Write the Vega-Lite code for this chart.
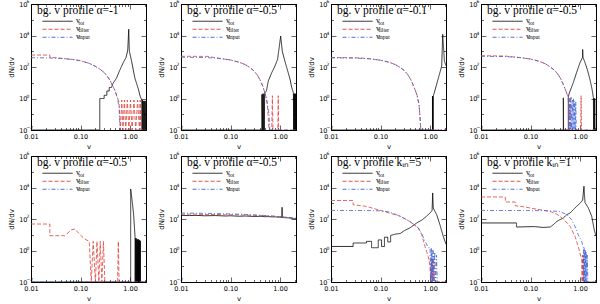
{
"$schema":"https://vega.github.io/schema/vega-lite/v6.json",
"padding":{"left":7,"top":-2,"right":2,"bottom":0},
"bounds":"flush",
"columns":4,
"spacing":{"row":26,"column":35},
"data":{"values":[
{"p":1,"s":"tot","v":0.01,"n":0.01},{"p":1,"s":"tot","v":0.245,"n":0.01},{"p":1,"s":"tot","v":0.245,"n":1},{"p":1,"s":"tot","v":0.3,"n":1},{"p":1,"s":"tot","v":0.3,"n":1.6},{"p":1,"s":"tot","v":0.34,"n":1.6},{"p":1,"s":"tot","v":0.34,"n":3},{"p":1,"s":"tot","v":0.38,"n":3},{"p":1,"s":"tot","v":0.38,"n":5},{"p":1,"s":"tot","v":0.42,"n":5},{"p":1,"s":"tot","v":0.46,"n":10},{"p":1,"s":"tot","v":0.53,"n":19},{"p":1,"s":"tot","v":0.63,"n":70},{"p":1,"s":"tot","v":0.73,"n":190},{"p":1,"s":"tot","v":0.83,"n":400},{"p":1,"s":"tot","v":0.9,"n":1200},{"p":1,"s":"tot","v":0.94,"n":25000},{"p":1,"s":"tot","v":0.97,"n":1000},{"p":1,"s":"tot","v":1.07,"n":250},{"p":1,"s":"tot","v":1.25,"n":20},{"p":1,"s":"tot","v":1.47,"n":4},{"p":1,"s":"tot","v":1.6,"n":1.4},{"p":1,"s":"tot","v":1.72,"n":0.8},{"p":1,"s":"tot","v":1.75,"n":0.01},{"p":1,"s":"tot","v":1.78,"n":0.8},{"p":1,"s":"tot","v":1.82,"n":0.01},{"p":1,"s":"tot","v":1.86,"n":0.7},{"p":1,"s":"tot","v":1.9,"n":0.01},{"p":1,"s":"tot","v":1.94,"n":0.7},{"p":1,"s":"tot","v":1.98,"n":0.01},{"p":1,"s":"tot","v":2.02,"n":0.7},{"p":1,"s":"tot","v":2.06,"n":0.01},{"p":1,"s":"tot","v":2.1,"n":0.7},
{"p":1,"s":"filter","v":0.01,"n":575},{"p":1,"s":"filter","v":0.024,"n":575},{"p":1,"s":"filter","v":0.024,"n":420},{"p":1,"s":"filter","v":0.04,"n":360},{"p":1,"s":"filter","v":0.07,"n":300},{"p":1,"s":"filter","v":0.1,"n":250},{"p":1,"s":"filter","v":0.15,"n":170},{"p":1,"s":"filter","v":0.2,"n":110},{"p":1,"s":"filter","v":0.25,"n":70},{"p":1,"s":"filter","v":0.3,"n":45},{"p":1,"s":"filter","v":0.35,"n":25},{"p":1,"s":"filter","v":0.4,"n":13},{"p":1,"s":"filter","v":0.45,"n":6},{"p":1,"s":"filter","v":0.5,"n":3},{"p":1,"s":"filter","v":0.55,"n":1.2},{"p":1,"s":"filter","v":0.6,"n":0.6},{"p":1,"s":"filter","v":0.64,"n":0.01},{"p":1,"s":"filter","v":0.68,"n":0.8},{"p":1,"s":"filter","v":0.72,"n":0.01},{"p":1,"s":"filter","v":0.77,"n":0.8},{"p":1,"s":"filter","v":0.82,"n":0.01},{"p":1,"s":"filter","v":0.88,"n":0.8},{"p":1,"s":"filter","v":0.95,"n":0.01},{"p":1,"s":"filter","v":1.02,"n":0.8},{"p":1,"s":"filter","v":1.1,"n":0.01},{"p":1,"s":"filter","v":1.2,"n":0.8},{"p":1,"s":"filter","v":1.3,"n":0.01},{"p":1,"s":"filter","v":1.42,"n":0.8},{"p":1,"s":"filter","v":1.55,"n":0.01},{"p":1,"s":"filter","v":1.6,"n":0.8},{"p":1,"s":"filter","v":1.65,"n":0.01},{"p":1,"s":"filter","v":2.1,"n":0.01},
{"p":1,"s":"input","v":0.01,"n":390},{"p":1,"s":"input","v":0.02,"n":380},{"p":1,"s":"input","v":0.04,"n":350},{"p":1,"s":"input","v":0.07,"n":300},{"p":1,"s":"input","v":0.1,"n":250},{"p":1,"s":"input","v":0.15,"n":170},{"p":1,"s":"input","v":0.2,"n":110},{"p":1,"s":"input","v":0.25,"n":70},{"p":1,"s":"input","v":0.3,"n":45},{"p":1,"s":"input","v":0.35,"n":25},{"p":1,"s":"input","v":0.4,"n":13},{"p":1,"s":"input","v":0.45,"n":6},{"p":1,"s":"input","v":0.5,"n":3},{"p":1,"s":"input","v":0.55,"n":1.2},{"p":1,"s":"input","v":0.6,"n":0.3},{"p":1,"s":"input","v":0.63,"n":0.01},{"p":1,"s":"input","v":2.1,"n":0.01},
{"p":2,"s":"tot","v":0.01,"n":0.01},{"p":2,"s":"tot","v":0.43,"n":0.01},{"p":2,"s":"tot","v":0.43,"n":1.8},{"p":2,"s":"tot","v":0.44,"n":0.01},{"p":2,"s":"tot","v":0.45,"n":2},{"p":2,"s":"tot","v":0.46,"n":0.01},{"p":2,"s":"tot","v":0.47,"n":2},{"p":2,"s":"tot","v":0.48,"n":0.01},{"p":2,"s":"tot","v":0.49,"n":2.2},{"p":2,"s":"tot","v":0.53,"n":3},{"p":2,"s":"tot","v":0.58,"n":13},{"p":2,"s":"tot","v":0.68,"n":44},{"p":2,"s":"tot","v":0.79,"n":115},{"p":2,"s":"tot","v":0.89,"n":300},{"p":2,"s":"tot","v":0.96,"n":1700},{"p":2,"s":"tot","v":1.03,"n":9300},{"p":2,"s":"tot","v":1.11,"n":1000},{"p":2,"s":"tot","v":1.25,"n":240},{"p":2,"s":"tot","v":1.46,"n":44},{"p":2,"s":"tot","v":1.59,"n":17},{"p":2,"s":"tot","v":1.72,"n":5},{"p":2,"s":"tot","v":1.86,"n":2.3},{"p":2,"s":"tot","v":1.88,"n":0.01},{"p":2,"s":"tot","v":1.9,"n":2},{"p":2,"s":"tot","v":1.93,"n":0.01},{"p":2,"s":"tot","v":1.96,"n":2},{"p":2,"s":"tot","v":1.99,"n":0.01},{"p":2,"s":"tot","v":2.02,"n":2},{"p":2,"s":"tot","v":2.05,"n":0.01},{"p":2,"s":"tot","v":2.08,"n":2},{"p":2,"s":"tot","v":2.1,"n":0.01},
{"p":2,"s":"filter","v":0.01,"n":480},{"p":2,"s":"filter","v":0.035,"n":470},{"p":2,"s":"filter","v":0.06,"n":350},{"p":2,"s":"filter","v":0.1,"n":280},{"p":2,"s":"filter","v":0.15,"n":200},{"p":2,"s":"filter","v":0.2,"n":140},{"p":2,"s":"filter","v":0.25,"n":90},{"p":2,"s":"filter","v":0.3,"n":55},{"p":2,"s":"filter","v":0.35,"n":30},{"p":2,"s":"filter","v":0.4,"n":14},{"p":2,"s":"filter","v":0.45,"n":6},{"p":2,"s":"filter","v":0.5,"n":2},{"p":2,"s":"filter","v":0.55,"n":0.6},{"p":2,"s":"filter","v":0.6,"n":0.01},{"p":2,"s":"filter","v":0.68,"n":0.01},{"p":2,"s":"filter","v":0.7,"n":1.5},{"p":2,"s":"filter","v":0.72,"n":0.01},{"p":2,"s":"filter","v":0.9,"n":0.01},{"p":2,"s":"filter","v":0.92,"n":1.5},{"p":2,"s":"filter","v":0.94,"n":0.01},{"p":2,"s":"filter","v":2.1,"n":0.01},
{"p":2,"s":"input","v":0.01,"n":420},{"p":2,"s":"input","v":0.03,"n":400},{"p":2,"s":"input","v":0.06,"n":350},{"p":2,"s":"input","v":0.1,"n":280},{"p":2,"s":"input","v":0.15,"n":200},{"p":2,"s":"input","v":0.2,"n":140},{"p":2,"s":"input","v":0.25,"n":90},{"p":2,"s":"input","v":0.3,"n":55},{"p":2,"s":"input","v":0.35,"n":30},{"p":2,"s":"input","v":0.4,"n":14},{"p":2,"s":"input","v":0.45,"n":6},{"p":2,"s":"input","v":0.5,"n":2},{"p":2,"s":"input","v":0.55,"n":0.5},{"p":2,"s":"input","v":0.6,"n":0.1},{"p":2,"s":"input","v":0.62,"n":0.01},{"p":2,"s":"input","v":2.1,"n":0.01},
{"p":3,"s":"tot","v":0.01,"n":0.01},{"p":3,"s":"tot","v":1.12,"n":0.01},{"p":3,"s":"tot","v":1.12,"n":1.4},{"p":3,"s":"tot","v":1.13,"n":0.01},{"p":3,"s":"tot","v":1.14,"n":1.4},{"p":3,"s":"tot","v":1.15,"n":0.01},{"p":3,"s":"tot","v":1.16,"n":1.4},{"p":3,"s":"tot","v":1.17,"n":1.5},{"p":3,"s":"tot","v":1.36,"n":8},{"p":3,"s":"tot","v":1.58,"n":44},{"p":3,"s":"tot","v":1.72,"n":115},{"p":3,"s":"tot","v":1.8,"n":12000},{"p":3,"s":"tot","v":1.95,"n":240},{"p":3,"s":"tot","v":2.1,"n":120},
{"p":3,"s":"filter","v":0.01,"n":400},{"p":3,"s":"filter","v":0.03,"n":390},{"p":3,"s":"filter","v":0.06,"n":340},{"p":3,"s":"filter","v":0.1,"n":270},{"p":3,"s":"filter","v":0.15,"n":200},{"p":3,"s":"filter","v":0.2,"n":140},{"p":3,"s":"filter","v":0.25,"n":95},{"p":3,"s":"filter","v":0.3,"n":60},{"p":3,"s":"filter","v":0.35,"n":35},{"p":3,"s":"filter","v":0.4,"n":18},{"p":3,"s":"filter","v":0.45,"n":8},{"p":3,"s":"filter","v":0.5,"n":3.5},{"p":3,"s":"filter","v":0.55,"n":1.5},{"p":3,"s":"filter","v":0.6,"n":0.4},{"p":3,"s":"filter","v":0.63,"n":0.05},{"p":3,"s":"filter","v":0.65,"n":0.01},{"p":3,"s":"filter","v":2.1,"n":0.01},
{"p":3,"s":"input","v":0.01,"n":380},{"p":3,"s":"input","v":0.03,"n":370},{"p":3,"s":"input","v":0.06,"n":330},{"p":3,"s":"input","v":0.1,"n":270},{"p":3,"s":"input","v":0.15,"n":200},{"p":3,"s":"input","v":0.2,"n":140},{"p":3,"s":"input","v":0.25,"n":95},{"p":3,"s":"input","v":0.3,"n":60},{"p":3,"s":"input","v":0.35,"n":35},{"p":3,"s":"input","v":0.4,"n":18},{"p":3,"s":"input","v":0.45,"n":8},{"p":3,"s":"input","v":0.5,"n":3.5},{"p":3,"s":"input","v":0.55,"n":1.5},{"p":3,"s":"input","v":0.6,"n":0.4},{"p":3,"s":"input","v":0.63,"n":0.05},{"p":3,"s":"input","v":0.65,"n":0.01},{"p":3,"s":"input","v":2.1,"n":0.01},
{"p":4,"s":"tot","v":0.01,"n":0.01},{"p":4,"s":"tot","v":0.46,"n":0.01},{"p":4,"s":"tot","v":0.46,"n":1.1},{"p":4,"s":"tot","v":0.465,"n":0.01},{"p":4,"s":"tot","v":0.58,"n":0.01},{"p":4,"s":"tot","v":0.58,"n":1.5},{"p":4,"s":"tot","v":0.59,"n":1.5},{"p":4,"s":"tot","v":0.6,"n":2},{"p":4,"s":"tot","v":0.63,"n":3},{"p":4,"s":"tot","v":0.73,"n":10},{"p":4,"s":"tot","v":0.85,"n":44},{"p":4,"s":"tot","v":1.0,"n":190},{"p":4,"s":"tot","v":1.08,"n":310},{"p":4,"s":"tot","v":1.12,"n":400},{"p":4,"s":"tot","v":1.13,"n":1300},{"p":4,"s":"tot","v":1.15,"n":400},{"p":4,"s":"tot","v":1.26,"n":190},{"p":4,"s":"tot","v":1.4,"n":70},{"p":4,"s":"tot","v":1.58,"n":17},{"p":4,"s":"tot","v":1.75,"n":3.8},{"p":4,"s":"tot","v":1.86,"n":1.1},{"p":4,"s":"tot","v":1.88,"n":0.01},{"p":4,"s":"tot","v":1.92,"n":1},{"p":4,"s":"tot","v":1.95,"n":0.01},{"p":4,"s":"tot","v":1.98,"n":1},{"p":4,"s":"tot","v":2.01,"n":0.01},{"p":4,"s":"tot","v":2.1,"n":0.01},
{"p":4,"s":"filter","v":0.01,"n":520},{"p":4,"s":"filter","v":0.03,"n":500},{"p":4,"s":"filter","v":0.06,"n":400},{"p":4,"s":"filter","v":0.1,"n":320},{"p":4,"s":"filter","v":0.15,"n":230},{"p":4,"s":"filter","v":0.2,"n":160},{"p":4,"s":"filter","v":0.25,"n":100},{"p":4,"s":"filter","v":0.3,"n":65},{"p":4,"s":"filter","v":0.35,"n":38},{"p":4,"s":"filter","v":0.4,"n":20},{"p":4,"s":"filter","v":0.45,"n":9},{"p":4,"s":"filter","v":0.5,"n":4},{"p":4,"s":"filter","v":0.55,"n":1.8},{"p":4,"s":"filter","v":0.58,"n":1.5},{"p":4,"s":"filter","v":0.6,"n":0.01},{"p":4,"s":"filter","v":0.63,"n":1.2},{"p":4,"s":"filter","v":0.66,"n":0.01},{"p":4,"s":"filter","v":1.03,"n":0.01},{"p":4,"s":"filter","v":1.05,"n":1.5},{"p":4,"s":"filter","v":1.07,"n":0.01},{"p":4,"s":"filter","v":2.1,"n":0.01},
{"p":4,"s":"input","v":0.01,"n":480},{"p":4,"s":"input","v":0.03,"n":460},{"p":4,"s":"input","v":0.06,"n":400},{"p":4,"s":"input","v":0.1,"n":320},{"p":4,"s":"input","v":0.15,"n":230},{"p":4,"s":"input","v":0.2,"n":160},{"p":4,"s":"input","v":0.25,"n":100},{"p":4,"s":"input","v":0.3,"n":65},{"p":4,"s":"input","v":0.35,"n":38},{"p":4,"s":"input","v":0.4,"n":20},{"p":4,"s":"input","v":0.45,"n":9},{"p":4,"s":"input","v":0.5,"n":4},{"p":4,"s":"input","v":0.55,"n":1.8},{"p":4,"s":"input","v":0.58,"n":1},{"p":4,"s":"input","v":0.6,"n":0.01},{"p":4,"s":"input","v":0.62,"n":1},{"p":4,"s":"input","v":0.64,"n":0.01},{"p":4,"s":"input","v":0.66,"n":1.2},{"p":4,"s":"input","v":0.68,"n":0.01},{"p":4,"s":"input","v":0.7,"n":0.8},{"p":4,"s":"input","v":0.72,"n":0.01},{"p":4,"s":"input","v":0.74,"n":1},{"p":4,"s":"input","v":0.76,"n":0.01},{"p":4,"s":"input","v":0.78,"n":0.7},{"p":4,"s":"input","v":0.8,"n":0.01},{"p":4,"s":"input","v":0.82,"n":0.6},{"p":4,"s":"input","v":0.84,"n":0.01},{"p":4,"s":"input","v":2.1,"n":0.01},
{"p":5,"s":"tot","v":0.01,"n":0.01},{"p":5,"s":"tot","v":1.03,"n":0.01},{"p":5,"s":"tot","v":1.03,"n":8000},{"p":5,"s":"tot","v":1.1,"n":1500},{"p":5,"s":"tot","v":1.18,"n":200},{"p":5,"s":"tot","v":1.26,"n":8},{"p":5,"s":"tot","v":1.27,"n":0.01},{"p":5,"s":"tot","v":1.29,"n":6},{"p":5,"s":"tot","v":1.31,"n":0.01},{"p":5,"s":"tot","v":1.33,"n":6},{"p":5,"s":"tot","v":1.35,"n":0.01},{"p":5,"s":"tot","v":1.37,"n":5},{"p":5,"s":"tot","v":1.39,"n":0.01},{"p":5,"s":"tot","v":1.41,"n":5},{"p":5,"s":"tot","v":1.43,"n":0.01},{"p":5,"s":"tot","v":1.45,"n":5},{"p":5,"s":"tot","v":1.47,"n":0.01},{"p":5,"s":"tot","v":1.49,"n":5},{"p":5,"s":"tot","v":1.51,"n":0.01},{"p":5,"s":"tot","v":1.53,"n":4.5},{"p":5,"s":"tot","v":1.55,"n":0.01},{"p":5,"s":"tot","v":1.57,"n":4.5},{"p":5,"s":"tot","v":1.59,"n":0.01},{"p":5,"s":"tot","v":1.61,"n":4},{"p":5,"s":"tot","v":1.63,"n":0.01},{"p":5,"s":"tot","v":2.1,"n":0.01},
{"p":5,"s":"filter","v":0.01,"n":48},{"p":5,"s":"filter","v":0.024,"n":48},{"p":5,"s":"filter","v":0.024,"n":8.7},{"p":5,"s":"filter","v":0.048,"n":8.7},{"p":5,"s":"filter","v":0.066,"n":21},{"p":5,"s":"filter","v":0.077,"n":23},{"p":5,"s":"filter","v":0.098,"n":10},{"p":5,"s":"filter","v":0.12,"n":5.5},{"p":5,"s":"filter","v":0.15,"n":3.8},{"p":5,"s":"filter","v":0.165,"n":0.01},{"p":5,"s":"filter","v":0.18,"n":3.8},{"p":5,"s":"filter","v":0.2,"n":0.01},{"p":5,"s":"filter","v":0.215,"n":3.8},{"p":5,"s":"filter","v":0.235,"n":0.01},{"p":5,"s":"filter","v":0.25,"n":3.8},{"p":5,"s":"filter","v":0.27,"n":0.01},{"p":5,"s":"filter","v":0.29,"n":3.8},{"p":5,"s":"filter","v":0.31,"n":0.01},{"p":5,"s":"filter","v":0.56,"n":0.01},{"p":5,"s":"filter","v":0.58,"n":3.8},{"p":5,"s":"filter","v":0.6,"n":0.01},{"p":5,"s":"filter","v":2.1,"n":0.01},
{"p":5,"s":"input","v":0.01,"n":0.01},{"p":5,"s":"input","v":2.1,"n":0.01},
{"p":6,"s":"tot","v":0.01,"n":170},{"p":6,"s":"tot","v":0.015,"n":165},{"p":6,"s":"tot","v":0.02,"n":170},{"p":6,"s":"tot","v":0.03,"n":160},{"p":6,"s":"tot","v":0.05,"n":165},{"p":6,"s":"tot","v":0.08,"n":155},{"p":6,"s":"tot","v":0.1,"n":160},{"p":6,"s":"tot","v":0.15,"n":150},{"p":6,"s":"tot","v":0.2,"n":155},{"p":6,"s":"tot","v":0.3,"n":145},{"p":6,"s":"tot","v":0.4,"n":148},{"p":6,"s":"tot","v":0.5,"n":140},{"p":6,"s":"tot","v":0.6,"n":142},{"p":6,"s":"tot","v":0.7,"n":135},{"p":6,"s":"tot","v":0.8,"n":138},{"p":6,"s":"tot","v":0.9,"n":130},{"p":6,"s":"tot","v":1.0,"n":132},{"p":6,"s":"tot","v":1.08,"n":125},{"p":6,"s":"tot","v":1.1,"n":550},{"p":6,"s":"tot","v":1.12,"n":125},{"p":6,"s":"tot","v":1.3,"n":120},{"p":6,"s":"tot","v":1.5,"n":118},{"p":6,"s":"tot","v":1.7,"n":110},{"p":6,"s":"tot","v":1.9,"n":105},{"p":6,"s":"tot","v":2.1,"n":100},
{"p":6,"s":"filter","v":0.01,"n":200},{"p":6,"s":"filter","v":0.02,"n":205},{"p":6,"s":"filter","v":0.03,"n":190},{"p":6,"s":"filter","v":0.05,"n":195},{"p":6,"s":"filter","v":0.08,"n":185},{"p":6,"s":"filter","v":0.1,"n":190},{"p":6,"s":"filter","v":0.2,"n":175},{"p":6,"s":"filter","v":0.3,"n":170},{"p":6,"s":"filter","v":0.5,"n":160},{"p":6,"s":"filter","v":0.7,"n":150},{"p":6,"s":"filter","v":1.0,"n":140},{"p":6,"s":"filter","v":1.3,"n":130},{"p":6,"s":"filter","v":1.6,"n":120},{"p":6,"s":"filter","v":2.1,"n":110},
{"p":6,"s":"input","v":0.01,"n":240},{"p":6,"s":"input","v":0.03,"n":230},{"p":6,"s":"input","v":0.1,"n":210},{"p":6,"s":"input","v":0.2,"n":195},{"p":6,"s":"input","v":0.4,"n":175},{"p":6,"s":"input","v":0.7,"n":155},{"p":6,"s":"input","v":1.0,"n":140},{"p":6,"s":"input","v":1.5,"n":125},{"p":6,"s":"input","v":2.1,"n":110},
{"p":7,"s":"tot","v":0.01,"n":1.8},{"p":7,"s":"tot","v":0.028,"n":1.8},{"p":7,"s":"tot","v":0.028,"n":3},{"p":7,"s":"tot","v":0.052,"n":3},{"p":7,"s":"tot","v":0.052,"n":3.8},{"p":7,"s":"tot","v":0.066,"n":3.8},{"p":7,"s":"tot","v":0.066,"n":1.5},{"p":7,"s":"tot","v":0.09,"n":1.5},{"p":7,"s":"tot","v":0.09,"n":4.7},{"p":7,"s":"tot","v":0.105,"n":4.7},{"p":7,"s":"tot","v":0.105,"n":1.8},{"p":7,"s":"tot","v":0.12,"n":1.8},{"p":7,"s":"tot","v":0.12,"n":7},{"p":7,"s":"tot","v":0.14,"n":7},{"p":7,"s":"tot","v":0.14,"n":3.5},{"p":7,"s":"tot","v":0.16,"n":3.5},{"p":7,"s":"tot","v":0.16,"n":9},{"p":7,"s":"tot","v":0.2,"n":11},{"p":7,"s":"tot","v":0.25,"n":12},{"p":7,"s":"tot","v":0.3,"n":18},{"p":7,"s":"tot","v":0.39,"n":27},{"p":7,"s":"tot","v":0.54,"n":56},{"p":7,"s":"tot","v":0.7,"n":90},{"p":7,"s":"tot","v":0.85,"n":150},{"p":7,"s":"tot","v":1.0,"n":240},{"p":7,"s":"tot","v":1.1,"n":350},{"p":7,"s":"tot","v":1.13,"n":4500},{"p":7,"s":"tot","v":1.16,"n":500},{"p":7,"s":"tot","v":1.36,"n":190},{"p":7,"s":"tot","v":1.58,"n":44},{"p":7,"s":"tot","v":1.86,"n":7.5},{"p":7,"s":"tot","v":2.1,"n":2.5},
{"p":7,"s":"filter","v":0.01,"n":1500},{"p":7,"s":"filter","v":0.028,"n":1500},{"p":7,"s":"filter","v":0.028,"n":810},{"p":7,"s":"filter","v":0.052,"n":630},{"p":7,"s":"filter","v":0.114,"n":310},{"p":7,"s":"filter","v":0.25,"n":150},{"p":7,"s":"filter","v":0.39,"n":70},{"p":7,"s":"filter","v":0.58,"n":27},{"p":7,"s":"filter","v":0.68,"n":10},{"p":7,"s":"filter","v":0.79,"n":1.8},{"p":7,"s":"filter","v":0.92,"n":0.42},{"p":7,"s":"filter","v":1.0,"n":0.1},{"p":7,"s":"filter","v":1.03,"n":0.01},{"p":7,"s":"filter","v":1.06,"n":0.3},{"p":7,"s":"filter","v":1.09,"n":0.01},{"p":7,"s":"filter","v":1.12,"n":0.3},{"p":7,"s":"filter","v":1.15,"n":0.01},{"p":7,"s":"filter","v":1.19,"n":0.2},{"p":7,"s":"filter","v":1.23,"n":0.01},{"p":7,"s":"filter","v":2.1,"n":0.01},
{"p":7,"s":"input","v":0.01,"n":350},{"p":7,"s":"input","v":0.05,"n":345},{"p":7,"s":"input","v":0.1,"n":330},{"p":7,"s":"input","v":0.15,"n":280},{"p":7,"s":"input","v":0.2,"n":200},{"p":7,"s":"input","v":0.25,"n":150},{"p":7,"s":"input","v":0.39,"n":70},{"p":7,"s":"input","v":0.58,"n":27},{"p":7,"s":"input","v":0.68,"n":12},{"p":7,"s":"input","v":0.79,"n":4},{"p":7,"s":"input","v":0.92,"n":1.5},{"p":7,"s":"input","v":1.0,"n":1.5},{"p":7,"s":"input","v":1.03,"n":0.01},{"p":7,"s":"input","v":1.06,"n":1.5},{"p":7,"s":"input","v":1.08,"n":0.01},{"p":7,"s":"input","v":1.1,"n":1.2},{"p":7,"s":"input","v":1.13,"n":0.01},{"p":7,"s":"input","v":1.16,"n":1},{"p":7,"s":"input","v":1.2,"n":0.01},{"p":7,"s":"input","v":1.24,"n":0.8},{"p":7,"s":"input","v":1.3,"n":0.01},{"p":7,"s":"input","v":1.35,"n":0.5},{"p":7,"s":"input","v":1.4,"n":0.01},{"p":7,"s":"input","v":2.1,"n":0.01},
{"p":8,"s":"tot","v":0.01,"n":56},{"p":8,"s":"tot","v":0.052,"n":56},{"p":8,"s":"tot","v":0.052,"n":31},{"p":8,"s":"tot","v":0.12,"n":33},{"p":8,"s":"tot","v":0.18,"n":29},{"p":8,"s":"tot","v":0.25,"n":31},{"p":8,"s":"tot","v":0.29,"n":44},{"p":8,"s":"tot","v":0.34,"n":70},{"p":8,"s":"tot","v":0.39,"n":90},{"p":8,"s":"tot","v":0.46,"n":115},{"p":8,"s":"tot","v":0.54,"n":190},{"p":8,"s":"tot","v":0.63,"n":240},{"p":8,"s":"tot","v":0.73,"n":390},{"p":8,"s":"tot","v":0.85,"n":630},{"p":8,"s":"tot","v":1.0,"n":1000},{"p":8,"s":"tot","v":1.13,"n":1600},{"p":8,"s":"tot","v":1.2,"n":12000},{"p":8,"s":"tot","v":1.26,"n":1100},{"p":8,"s":"tot","v":1.47,"n":500},{"p":8,"s":"tot","v":1.72,"n":150},{"p":8,"s":"tot","v":1.93,"n":21},{"p":8,"s":"tot","v":2.1,"n":8},
{"p":8,"s":"filter","v":0.01,"n":2500},{"p":8,"s":"filter","v":0.031,"n":2500},{"p":8,"s":"filter","v":0.031,"n":1200},{"p":8,"s":"filter","v":0.049,"n":1200},{"p":8,"s":"filter","v":0.049,"n":700},{"p":8,"s":"filter","v":0.072,"n":600},{"p":8,"s":"filter","v":0.133,"n":420},{"p":8,"s":"filter","v":0.25,"n":300},{"p":8,"s":"filter","v":0.34,"n":200},{"p":8,"s":"filter","v":0.46,"n":100},{"p":8,"s":"filter","v":0.63,"n":34},{"p":8,"s":"filter","v":0.79,"n":8},{"p":8,"s":"filter","v":0.92,"n":1.8},{"p":8,"s":"filter","v":1.08,"n":0.26},{"p":8,"s":"filter","v":1.1,"n":0.01},{"p":8,"s":"filter","v":1.12,"n":0.5},{"p":8,"s":"filter","v":1.14,"n":0.01},{"p":8,"s":"filter","v":1.16,"n":0.5},{"p":8,"s":"filter","v":1.18,"n":0.01},{"p":8,"s":"filter","v":2.1,"n":0.01},
{"p":8,"s":"input","v":0.01,"n":350},{"p":8,"s":"input","v":0.2,"n":340},{"p":8,"s":"input","v":0.39,"n":300},{"p":8,"s":"input","v":0.54,"n":190},{"p":8,"s":"input","v":0.68,"n":90},{"p":8,"s":"input","v":0.79,"n":34},{"p":8,"s":"input","v":0.92,"n":10},{"p":8,"s":"input","v":1.08,"n":3.8},{"p":8,"s":"input","v":1.17,"n":1.4},{"p":8,"s":"input","v":1.19,"n":0.01},{"p":8,"s":"input","v":1.21,"n":1.5},{"p":8,"s":"input","v":1.23,"n":0.01},{"p":8,"s":"input","v":1.25,"n":1.2},{"p":8,"s":"input","v":1.27,"n":0.01},{"p":8,"s":"input","v":1.29,"n":1},{"p":8,"s":"input","v":1.31,"n":0.01},{"p":8,"s":"input","v":1.34,"n":0.8},{"p":8,"s":"input","v":1.37,"n":0.01},{"p":8,"s":"input","v":1.4,"n":0.5},{"p":8,"s":"input","v":1.44,"n":0.01},{"p":8,"s":"input","v":2.1,"n":0.01}
]},
"concat":[
{"width":115,"height":126,"title":{"text":"bg. v profile α=-1"},"transform":[{"filter":"datum.p==1"}],
"layer":[
{"mark":{"type":"line","strokeWidth":0.8,"clip":true},"encoding":{
"x":{"field":"v","type":"quantitative","scale":{"type":"log","domain":[0.01,2.1],"nice":false},"axis":{"orient":"bottom","values":[0.01,0.02,0.03,0.04,0.05,0.06,0.07,0.08,0.09,0.1,0.2,0.3,0.4,0.5,0.6,0.7,0.8,0.9,1,2],"labelExpr":"datum.value==0.01?'0.01':datum.value==0.1?'0.10':datum.value==1?'1.00':''","tickSize":{"condition":{"test":"datum.value==0.01||datum.value==0.1||datum.value==1","value":-5},"value":-2.5},"labelPadding":8,"title":"v"}},
"y":{"field":"n","type":"quantitative","scale":{"type":"log","domain":[0.01,1000000],"nice":false},"axis":{"orient":"left","values":[0.01,0.1,1,10,100,1000,10000,100000,1000000],"labelExpr":"indexof([0.01,1,100,10000,1000000],datum.value)>=0?'10':''","tickSize":{"condition":{"test":"indexof([0.01,1,100,10000,1000000],datum.value)>=0","value":-5},"value":-2.5},"labelPadding":9,"title":"dN/dv"}},
"color":{"field":"s","type":"nominal","scale":{"domain":["tot","filter","input"],"range":["#000000","#e0403a","#3a62d4"]},"legend":{"orient":"none","legendX":11,"legendY":14,"title":null,"symbolType":"stroke","symbolSize":900,"symbolStrokeWidth":0.9,"clipHeight":6.5,"rowPadding":-5,"padding":0,"labelExpr":"'v'","labelFont":"Liberation Serif","labelFontSize":8,"labelOffset":3}},
"strokeDash":{"field":"s","type":"nominal","scale":{"domain":["tot","filter","input"],"range":[[1,0],[4,2],[4,2,1,2]]}},
"opacity":{"field":"s","type":"nominal","scale":{"type":"ordinal","domain":["tot","filter","input"],"range":[1,1,1]},"legend":{"orient":"top-left","offset":16,"title":null,"symbolSize":0,"symbolOpacity":0,"rowPadding":-2.5,"padding":0,"labelFont":"Liberation Serif","labelFontSize":5.5,"labelOffset":26}}}},
{"mark":{"type":"point","opacity":0,"clip":true},"encoding":{
"x":{"field":"v","type":"quantitative","axis":{"orient":"top","labels":false,"title":null,"values":[0.01,0.02,0.03,0.04,0.05,0.06,0.07,0.08,0.09,0.1,0.2,0.3,0.4,0.5,0.6,0.7,0.8,0.9,1,2],"tickSize":{"condition":{"test":"datum.value==0.01||datum.value==0.1||datum.value==1","value":-5},"value":-2.5}}},
"y":{"field":"n","type":"quantitative","axis":{"orient":"right","labels":false,"title":null,"values":[0.01,0.1,1,10,100,1000,10000,100000,1000000],"tickSize":{"condition":{"test":"indexof([0.01,1,100,10000,1000000],datum.value)>=0","value":-5},"value":-2.5}}}}},
{"mark":{"type":"point","opacity":0,"clip":true},"encoding":{
"x":{"field":"v","type":"quantitative","axis":null},
"y":{"field":"n","type":"quantitative","axis":{"orient":"left","ticks":false,"domain":false,"title":null,"values":[0.01,1,100,10000,1000000],"labelExpr":"datum.value==0.01?'−2':datum.value==1?'0':datum.value==100?'2':datum.value==10000?'4':'6'","labelAlign":"left","labelPadding":5,"labelFontSize":4.5,"labelOffset":-2.5}}}}
],
"resolve":{"axis":{"x":"independent","y":"independent"}}},
{"width":115,"height":126,"title":{"text":"bg. v profile α=-0.5"},"transform":[{"filter":"datum.p==2"}],
"layer":[
{"mark":{"type":"line","strokeWidth":0.8,"clip":true},"encoding":{
"x":{"field":"v","type":"quantitative","scale":{"type":"log","domain":[0.01,2.1],"nice":false},"axis":{"orient":"bottom","values":[0.01,0.02,0.03,0.04,0.05,0.06,0.07,0.08,0.09,0.1,0.2,0.3,0.4,0.5,0.6,0.7,0.8,0.9,1,2],"labelExpr":"datum.value==0.01?'0.01':datum.value==0.1?'0.10':datum.value==1?'1.00':''","tickSize":{"condition":{"test":"datum.value==0.01||datum.value==0.1||datum.value==1","value":-5},"value":-2.5},"labelPadding":8,"title":"v"}},
"y":{"field":"n","type":"quantitative","scale":{"type":"log","domain":[0.01,1000000],"nice":false},"axis":{"orient":"left","values":[0.01,0.1,1,10,100,1000,10000,100000,1000000],"labelExpr":"indexof([0.01,1,100,10000,1000000],datum.value)>=0?'10':''","tickSize":{"condition":{"test":"indexof([0.01,1,100,10000,1000000],datum.value)>=0","value":-5},"value":-2.5},"labelPadding":9,"title":"dN/dv"}},
"color":{"field":"s","type":"nominal","scale":{"domain":["tot","filter","input"],"range":["#000000","#e0403a","#3a62d4"]},"legend":{"orient":"none","legendX":11,"legendY":14,"title":null,"symbolType":"stroke","symbolSize":900,"symbolStrokeWidth":0.9,"clipHeight":6.5,"rowPadding":-5,"padding":0,"labelExpr":"'v'","labelFont":"Liberation Serif","labelFontSize":8,"labelOffset":3}},
"strokeDash":{"field":"s","type":"nominal","scale":{"domain":["tot","filter","input"],"range":[[1,0],[4,2],[4,2,1,2]]}},
"opacity":{"field":"s","type":"nominal","scale":{"type":"ordinal","domain":["tot","filter","input"],"range":[1,1,1]},"legend":{"orient":"top-left","offset":16,"title":null,"symbolSize":0,"symbolOpacity":0,"rowPadding":-2.5,"padding":0,"labelFont":"Liberation Serif","labelFontSize":5.5,"labelOffset":26}}}},
{"mark":{"type":"point","opacity":0,"clip":true},"encoding":{
"x":{"field":"v","type":"quantitative","axis":{"orient":"top","labels":false,"title":null,"values":[0.01,0.02,0.03,0.04,0.05,0.06,0.07,0.08,0.09,0.1,0.2,0.3,0.4,0.5,0.6,0.7,0.8,0.9,1,2],"tickSize":{"condition":{"test":"datum.value==0.01||datum.value==0.1||datum.value==1","value":-5},"value":-2.5}}},
"y":{"field":"n","type":"quantitative","axis":{"orient":"right","labels":false,"title":null,"values":[0.01,0.1,1,10,100,1000,10000,100000,1000000],"tickSize":{"condition":{"test":"indexof([0.01,1,100,10000,1000000],datum.value)>=0","value":-5},"value":-2.5}}}}},
{"mark":{"type":"point","opacity":0,"clip":true},"encoding":{
"x":{"field":"v","type":"quantitative","axis":null},
"y":{"field":"n","type":"quantitative","axis":{"orient":"left","ticks":false,"domain":false,"title":null,"values":[0.01,1,100,10000,1000000],"labelExpr":"datum.value==0.01?'−2':datum.value==1?'0':datum.value==100?'2':datum.value==10000?'4':'6'","labelAlign":"left","labelPadding":5,"labelFontSize":4.5,"labelOffset":-2.5}}}}
],
"resolve":{"axis":{"x":"independent","y":"independent"}}},
{"width":115,"height":126,"title":{"text":"bg. v profile α=-0.1"},"transform":[{"filter":"datum.p==3"}],
"layer":[
{"mark":{"type":"line","strokeWidth":0.8,"clip":true},"encoding":{
"x":{"field":"v","type":"quantitative","scale":{"type":"log","domain":[0.01,2.1],"nice":false},"axis":{"orient":"bottom","values":[0.01,0.02,0.03,0.04,0.05,0.06,0.07,0.08,0.09,0.1,0.2,0.3,0.4,0.5,0.6,0.7,0.8,0.9,1,2],"labelExpr":"datum.value==0.01?'0.01':datum.value==0.1?'0.10':datum.value==1?'1.00':''","tickSize":{"condition":{"test":"datum.value==0.01||datum.value==0.1||datum.value==1","value":-5},"value":-2.5},"labelPadding":8,"title":"v"}},
"y":{"field":"n","type":"quantitative","scale":{"type":"log","domain":[0.01,1000000],"nice":false},"axis":{"orient":"left","values":[0.01,0.1,1,10,100,1000,10000,100000,1000000],"labelExpr":"indexof([0.01,1,100,10000,1000000],datum.value)>=0?'10':''","tickSize":{"condition":{"test":"indexof([0.01,1,100,10000,1000000],datum.value)>=0","value":-5},"value":-2.5},"labelPadding":9,"title":"dN/dv"}},
"color":{"field":"s","type":"nominal","scale":{"domain":["tot","filter","input"],"range":["#000000","#e0403a","#3a62d4"]},"legend":{"orient":"none","legendX":11,"legendY":14,"title":null,"symbolType":"stroke","symbolSize":900,"symbolStrokeWidth":0.9,"clipHeight":6.5,"rowPadding":-5,"padding":0,"labelExpr":"'v'","labelFont":"Liberation Serif","labelFontSize":8,"labelOffset":3}},
"strokeDash":{"field":"s","type":"nominal","scale":{"domain":["tot","filter","input"],"range":[[1,0],[4,2],[4,2,1,2]]}},
"opacity":{"field":"s","type":"nominal","scale":{"type":"ordinal","domain":["tot","filter","input"],"range":[1,1,1]},"legend":{"orient":"top-left","offset":16,"title":null,"symbolSize":0,"symbolOpacity":0,"rowPadding":-2.5,"padding":0,"labelFont":"Liberation Serif","labelFontSize":5.5,"labelOffset":26}}}},
{"mark":{"type":"point","opacity":0,"clip":true},"encoding":{
"x":{"field":"v","type":"quantitative","axis":{"orient":"top","labels":false,"title":null,"values":[0.01,0.02,0.03,0.04,0.05,0.06,0.07,0.08,0.09,0.1,0.2,0.3,0.4,0.5,0.6,0.7,0.8,0.9,1,2],"tickSize":{"condition":{"test":"datum.value==0.01||datum.value==0.1||datum.value==1","value":-5},"value":-2.5}}},
"y":{"field":"n","type":"quantitative","axis":{"orient":"right","labels":false,"title":null,"values":[0.01,0.1,1,10,100,1000,10000,100000,1000000],"tickSize":{"condition":{"test":"indexof([0.01,1,100,10000,1000000],datum.value)>=0","value":-5},"value":-2.5}}}}},
{"mark":{"type":"point","opacity":0,"clip":true},"encoding":{
"x":{"field":"v","type":"quantitative","axis":null},
"y":{"field":"n","type":"quantitative","axis":{"orient":"left","ticks":false,"domain":false,"title":null,"values":[0.01,1,100,10000,1000000],"labelExpr":"datum.value==0.01?'−2':datum.value==1?'0':datum.value==100?'2':datum.value==10000?'4':'6'","labelAlign":"left","labelPadding":5,"labelFontSize":4.5,"labelOffset":-2.5}}}}
],
"resolve":{"axis":{"x":"independent","y":"independent"}}},
{"width":115,"height":126,"title":{"text":"bg. v profile α=-0.5"},"transform":[{"filter":"datum.p==4"}],
"layer":[
{"mark":{"type":"line","strokeWidth":0.8,"clip":true},"encoding":{
"x":{"field":"v","type":"quantitative","scale":{"type":"log","domain":[0.01,2.1],"nice":false},"axis":{"orient":"bottom","values":[0.01,0.02,0.03,0.04,0.05,0.06,0.07,0.08,0.09,0.1,0.2,0.3,0.4,0.5,0.6,0.7,0.8,0.9,1,2],"labelExpr":"datum.value==0.01?'0.01':datum.value==0.1?'0.10':datum.value==1?'1.00':''","tickSize":{"condition":{"test":"datum.value==0.01||datum.value==0.1||datum.value==1","value":-5},"value":-2.5},"labelPadding":8,"title":"v"}},
"y":{"field":"n","type":"quantitative","scale":{"type":"log","domain":[0.01,1000000],"nice":false},"axis":{"orient":"left","values":[0.01,0.1,1,10,100,1000,10000,100000,1000000],"labelExpr":"indexof([0.01,1,100,10000,1000000],datum.value)>=0?'10':''","tickSize":{"condition":{"test":"indexof([0.01,1,100,10000,1000000],datum.value)>=0","value":-5},"value":-2.5},"labelPadding":9,"title":"dN/dv"}},
"color":{"field":"s","type":"nominal","scale":{"domain":["tot","filter","input"],"range":["#000000","#e0403a","#3a62d4"]},"legend":{"orient":"none","legendX":11,"legendY":14,"title":null,"symbolType":"stroke","symbolSize":900,"symbolStrokeWidth":0.9,"clipHeight":6.5,"rowPadding":-5,"padding":0,"labelExpr":"'v'","labelFont":"Liberation Serif","labelFontSize":8,"labelOffset":3}},
"strokeDash":{"field":"s","type":"nominal","scale":{"domain":["tot","filter","input"],"range":[[1,0],[4,2],[4,2,1,2]]}},
"opacity":{"field":"s","type":"nominal","scale":{"type":"ordinal","domain":["tot","filter","input"],"range":[1,1,1]},"legend":{"orient":"top-left","offset":16,"title":null,"symbolSize":0,"symbolOpacity":0,"rowPadding":-2.5,"padding":0,"labelFont":"Liberation Serif","labelFontSize":5.5,"labelOffset":26}}}},
{"mark":{"type":"point","opacity":0,"clip":true},"encoding":{
"x":{"field":"v","type":"quantitative","axis":{"orient":"top","labels":false,"title":null,"values":[0.01,0.02,0.03,0.04,0.05,0.06,0.07,0.08,0.09,0.1,0.2,0.3,0.4,0.5,0.6,0.7,0.8,0.9,1,2],"tickSize":{"condition":{"test":"datum.value==0.01||datum.value==0.1||datum.value==1","value":-5},"value":-2.5}}},
"y":{"field":"n","type":"quantitative","axis":{"orient":"right","labels":false,"title":null,"values":[0.01,0.1,1,10,100,1000,10000,100000,1000000],"tickSize":{"condition":{"test":"indexof([0.01,1,100,10000,1000000],datum.value)>=0","value":-5},"value":-2.5}}}}},
{"mark":{"type":"point","opacity":0,"clip":true},"encoding":{
"x":{"field":"v","type":"quantitative","axis":null},
"y":{"field":"n","type":"quantitative","axis":{"orient":"left","ticks":false,"domain":false,"title":null,"values":[0.01,1,100,10000,1000000],"labelExpr":"datum.value==0.01?'−2':datum.value==1?'0':datum.value==100?'2':datum.value==10000?'4':'6'","labelAlign":"left","labelPadding":5,"labelFontSize":4.5,"labelOffset":-2.5}}}}
],
"resolve":{"axis":{"x":"independent","y":"independent"}}},
{"width":115,"height":126,"title":{"text":"bg. v profile α=-0.5"},"transform":[{"filter":"datum.p==5"}],
"layer":[
{"mark":{"type":"line","strokeWidth":0.8,"clip":true},"encoding":{
"x":{"field":"v","type":"quantitative","scale":{"type":"log","domain":[0.01,2.1],"nice":false},"axis":{"orient":"bottom","values":[0.01,0.02,0.03,0.04,0.05,0.06,0.07,0.08,0.09,0.1,0.2,0.3,0.4,0.5,0.6,0.7,0.8,0.9,1,2],"labelExpr":"datum.value==0.01?'0.01':datum.value==0.1?'0.10':datum.value==1?'1.00':''","tickSize":{"condition":{"test":"datum.value==0.01||datum.value==0.1||datum.value==1","value":-5},"value":-2.5},"labelPadding":8,"title":"v"}},
"y":{"field":"n","type":"quantitative","scale":{"type":"log","domain":[0.01,1000000],"nice":false},"axis":{"orient":"left","values":[0.01,0.1,1,10,100,1000,10000,100000,1000000],"labelExpr":"indexof([0.01,1,100,10000,1000000],datum.value)>=0?'10':''","tickSize":{"condition":{"test":"indexof([0.01,1,100,10000,1000000],datum.value)>=0","value":-5},"value":-2.5},"labelPadding":9,"title":"dN/dv"}},
"color":{"field":"s","type":"nominal","scale":{"domain":["tot","filter","input"],"range":["#000000","#e0403a","#3a62d4"]},"legend":{"orient":"none","legendX":11,"legendY":14,"title":null,"symbolType":"stroke","symbolSize":900,"symbolStrokeWidth":0.9,"clipHeight":6.5,"rowPadding":-5,"padding":0,"labelExpr":"'v'","labelFont":"Liberation Serif","labelFontSize":8,"labelOffset":3}},
"strokeDash":{"field":"s","type":"nominal","scale":{"domain":["tot","filter","input"],"range":[[1,0],[4,2],[4,2,1,2]]}},
"opacity":{"field":"s","type":"nominal","scale":{"type":"ordinal","domain":["tot","filter","input"],"range":[1,1,1]},"legend":{"orient":"top-left","offset":16,"title":null,"symbolSize":0,"symbolOpacity":0,"rowPadding":-2.5,"padding":0,"labelFont":"Liberation Serif","labelFontSize":5.5,"labelOffset":26}}}},
{"mark":{"type":"point","opacity":0,"clip":true},"encoding":{
"x":{"field":"v","type":"quantitative","axis":{"orient":"top","labels":false,"title":null,"values":[0.01,0.02,0.03,0.04,0.05,0.06,0.07,0.08,0.09,0.1,0.2,0.3,0.4,0.5,0.6,0.7,0.8,0.9,1,2],"tickSize":{"condition":{"test":"datum.value==0.01||datum.value==0.1||datum.value==1","value":-5},"value":-2.5}}},
"y":{"field":"n","type":"quantitative","axis":{"orient":"right","labels":false,"title":null,"values":[0.01,0.1,1,10,100,1000,10000,100000,1000000],"tickSize":{"condition":{"test":"indexof([0.01,1,100,10000,1000000],datum.value)>=0","value":-5},"value":-2.5}}}}},
{"mark":{"type":"point","opacity":0,"clip":true},"encoding":{
"x":{"field":"v","type":"quantitative","axis":null},
"y":{"field":"n","type":"quantitative","axis":{"orient":"left","ticks":false,"domain":false,"title":null,"values":[0.01,1,100,10000,1000000],"labelExpr":"datum.value==0.01?'−2':datum.value==1?'0':datum.value==100?'2':datum.value==10000?'4':'6'","labelAlign":"left","labelPadding":5,"labelFontSize":4.5,"labelOffset":-2.5}}}}
],
"resolve":{"axis":{"x":"independent","y":"independent"}}},
{"width":115,"height":126,"title":{"text":"bg. v profile α=-0.5"},"transform":[{"filter":"datum.p==6"}],
"layer":[
{"mark":{"type":"line","strokeWidth":0.8,"clip":true},"encoding":{
"x":{"field":"v","type":"quantitative","scale":{"type":"log","domain":[0.01,2.1],"nice":false},"axis":{"orient":"bottom","values":[0.01,0.02,0.03,0.04,0.05,0.06,0.07,0.08,0.09,0.1,0.2,0.3,0.4,0.5,0.6,0.7,0.8,0.9,1,2],"labelExpr":"datum.value==0.01?'0.01':datum.value==0.1?'0.10':datum.value==1?'1.00':''","tickSize":{"condition":{"test":"datum.value==0.01||datum.value==0.1||datum.value==1","value":-5},"value":-2.5},"labelPadding":8,"title":"v"}},
"y":{"field":"n","type":"quantitative","scale":{"type":"log","domain":[0.01,1000000],"nice":false},"axis":{"orient":"left","values":[0.01,0.1,1,10,100,1000,10000,100000,1000000],"labelExpr":"indexof([0.01,1,100,10000,1000000],datum.value)>=0?'10':''","tickSize":{"condition":{"test":"indexof([0.01,1,100,10000,1000000],datum.value)>=0","value":-5},"value":-2.5},"labelPadding":9,"title":"dN/dv"}},
"color":{"field":"s","type":"nominal","scale":{"domain":["tot","filter","input"],"range":["#000000","#e0403a","#3a62d4"]},"legend":{"orient":"none","legendX":11,"legendY":14,"title":null,"symbolType":"stroke","symbolSize":900,"symbolStrokeWidth":0.9,"clipHeight":6.5,"rowPadding":-5,"padding":0,"labelExpr":"'v'","labelFont":"Liberation Serif","labelFontSize":8,"labelOffset":3}},
"strokeDash":{"field":"s","type":"nominal","scale":{"domain":["tot","filter","input"],"range":[[1,0],[4,2],[4,2,1,2]]}},
"opacity":{"field":"s","type":"nominal","scale":{"type":"ordinal","domain":["tot","filter","input"],"range":[1,1,1]},"legend":{"orient":"top-left","offset":16,"title":null,"symbolSize":0,"symbolOpacity":0,"rowPadding":-2.5,"padding":0,"labelFont":"Liberation Serif","labelFontSize":5.5,"labelOffset":26}}}},
{"mark":{"type":"point","opacity":0,"clip":true},"encoding":{
"x":{"field":"v","type":"quantitative","axis":{"orient":"top","labels":false,"title":null,"values":[0.01,0.02,0.03,0.04,0.05,0.06,0.07,0.08,0.09,0.1,0.2,0.3,0.4,0.5,0.6,0.7,0.8,0.9,1,2],"tickSize":{"condition":{"test":"datum.value==0.01||datum.value==0.1||datum.value==1","value":-5},"value":-2.5}}},
"y":{"field":"n","type":"quantitative","axis":{"orient":"right","labels":false,"title":null,"values":[0.01,0.1,1,10,100,1000,10000,100000,1000000],"tickSize":{"condition":{"test":"indexof([0.01,1,100,10000,1000000],datum.value)>=0","value":-5},"value":-2.5}}}}},
{"mark":{"type":"point","opacity":0,"clip":true},"encoding":{
"x":{"field":"v","type":"quantitative","axis":null},
"y":{"field":"n","type":"quantitative","axis":{"orient":"left","ticks":false,"domain":false,"title":null,"values":[0.01,1,100,10000,1000000],"labelExpr":"datum.value==0.01?'−2':datum.value==1?'0':datum.value==100?'2':datum.value==10000?'4':'6'","labelAlign":"left","labelPadding":5,"labelFontSize":4.5,"labelOffset":-2.5}}}}
],
"resolve":{"axis":{"x":"independent","y":"independent"}}},
{"width":115,"height":126,"title":{"text":"bg. v profile kᵢₙ=5"},"transform":[{"filter":"datum.p==7"}],
"layer":[
{"mark":{"type":"line","strokeWidth":0.8,"clip":true},"encoding":{
"x":{"field":"v","type":"quantitative","scale":{"type":"log","domain":[0.01,2.1],"nice":false},"axis":{"orient":"bottom","values":[0.01,0.02,0.03,0.04,0.05,0.06,0.07,0.08,0.09,0.1,0.2,0.3,0.4,0.5,0.6,0.7,0.8,0.9,1,2],"labelExpr":"datum.value==0.01?'0.01':datum.value==0.1?'0.10':datum.value==1?'1.00':''","tickSize":{"condition":{"test":"datum.value==0.01||datum.value==0.1||datum.value==1","value":-5},"value":-2.5},"labelPadding":8,"title":"v"}},
"y":{"field":"n","type":"quantitative","scale":{"type":"log","domain":[0.01,1000000],"nice":false},"axis":{"orient":"left","values":[0.01,0.1,1,10,100,1000,10000,100000,1000000],"labelExpr":"indexof([0.01,1,100,10000,1000000],datum.value)>=0?'10':''","tickSize":{"condition":{"test":"indexof([0.01,1,100,10000,1000000],datum.value)>=0","value":-5},"value":-2.5},"labelPadding":9,"title":"dN/dv"}},
"color":{"field":"s","type":"nominal","scale":{"domain":["tot","filter","input"],"range":["#000000","#e0403a","#3a62d4"]},"legend":{"orient":"none","legendX":11,"legendY":14,"title":null,"symbolType":"stroke","symbolSize":900,"symbolStrokeWidth":0.9,"clipHeight":6.5,"rowPadding":-5,"padding":0,"labelExpr":"'v'","labelFont":"Liberation Serif","labelFontSize":8,"labelOffset":3}},
"strokeDash":{"field":"s","type":"nominal","scale":{"domain":["tot","filter","input"],"range":[[1,0],[4,2],[4,2,1,2]]}},
"opacity":{"field":"s","type":"nominal","scale":{"type":"ordinal","domain":["tot","filter","input"],"range":[1,1,1]},"legend":{"orient":"top-left","offset":16,"title":null,"symbolSize":0,"symbolOpacity":0,"rowPadding":-2.5,"padding":0,"labelFont":"Liberation Serif","labelFontSize":5.5,"labelOffset":26}}}},
{"mark":{"type":"point","opacity":0,"clip":true},"encoding":{
"x":{"field":"v","type":"quantitative","axis":{"orient":"top","labels":false,"title":null,"values":[0.01,0.02,0.03,0.04,0.05,0.06,0.07,0.08,0.09,0.1,0.2,0.3,0.4,0.5,0.6,0.7,0.8,0.9,1,2],"tickSize":{"condition":{"test":"datum.value==0.01||datum.value==0.1||datum.value==1","value":-5},"value":-2.5}}},
"y":{"field":"n","type":"quantitative","axis":{"orient":"right","labels":false,"title":null,"values":[0.01,0.1,1,10,100,1000,10000,100000,1000000],"tickSize":{"condition":{"test":"indexof([0.01,1,100,10000,1000000],datum.value)>=0","value":-5},"value":-2.5}}}}},
{"mark":{"type":"point","opacity":0,"clip":true},"encoding":{
"x":{"field":"v","type":"quantitative","axis":null},
"y":{"field":"n","type":"quantitative","axis":{"orient":"left","ticks":false,"domain":false,"title":null,"values":[0.01,1,100,10000,1000000],"labelExpr":"datum.value==0.01?'−2':datum.value==1?'0':datum.value==100?'2':datum.value==10000?'4':'6'","labelAlign":"left","labelPadding":5,"labelFontSize":4.5,"labelOffset":-2.5}}}}
],
"resolve":{"axis":{"x":"independent","y":"independent"}}},
{"width":115,"height":126,"title":{"text":"bg. v profile kᵢₙ=1"},"transform":[{"filter":"datum.p==8"}],
"layer":[
{"mark":{"type":"line","strokeWidth":0.8,"clip":true},"encoding":{
"x":{"field":"v","type":"quantitative","scale":{"type":"log","domain":[0.01,2.1],"nice":false},"axis":{"orient":"bottom","values":[0.01,0.02,0.03,0.04,0.05,0.06,0.07,0.08,0.09,0.1,0.2,0.3,0.4,0.5,0.6,0.7,0.8,0.9,1,2],"labelExpr":"datum.value==0.01?'0.01':datum.value==0.1?'0.10':datum.value==1?'1.00':''","tickSize":{"condition":{"test":"datum.value==0.01||datum.value==0.1||datum.value==1","value":-5},"value":-2.5},"labelPadding":8,"title":"v"}},
"y":{"field":"n","type":"quantitative","scale":{"type":"log","domain":[0.01,1000000],"nice":false},"axis":{"orient":"left","values":[0.01,0.1,1,10,100,1000,10000,100000,1000000],"labelExpr":"indexof([0.01,1,100,10000,1000000],datum.value)>=0?'10':''","tickSize":{"condition":{"test":"indexof([0.01,1,100,10000,1000000],datum.value)>=0","value":-5},"value":-2.5},"labelPadding":9,"title":"dN/dv"}},
"color":{"field":"s","type":"nominal","scale":{"domain":["tot","filter","input"],"range":["#000000","#e0403a","#3a62d4"]},"legend":{"orient":"none","legendX":11,"legendY":14,"title":null,"symbolType":"stroke","symbolSize":900,"symbolStrokeWidth":0.9,"clipHeight":6.5,"rowPadding":-5,"padding":0,"labelExpr":"'v'","labelFont":"Liberation Serif","labelFontSize":8,"labelOffset":3}},
"strokeDash":{"field":"s","type":"nominal","scale":{"domain":["tot","filter","input"],"range":[[1,0],[4,2],[4,2,1,2]]}},
"opacity":{"field":"s","type":"nominal","scale":{"type":"ordinal","domain":["tot","filter","input"],"range":[1,1,1]},"legend":{"orient":"top-left","offset":16,"title":null,"symbolSize":0,"symbolOpacity":0,"rowPadding":-2.5,"padding":0,"labelFont":"Liberation Serif","labelFontSize":5.5,"labelOffset":26}}}},
{"mark":{"type":"point","opacity":0,"clip":true},"encoding":{
"x":{"field":"v","type":"quantitative","axis":{"orient":"top","labels":false,"title":null,"values":[0.01,0.02,0.03,0.04,0.05,0.06,0.07,0.08,0.09,0.1,0.2,0.3,0.4,0.5,0.6,0.7,0.8,0.9,1,2],"tickSize":{"condition":{"test":"datum.value==0.01||datum.value==0.1||datum.value==1","value":-5},"value":-2.5}}},
"y":{"field":"n","type":"quantitative","axis":{"orient":"right","labels":false,"title":null,"values":[0.01,0.1,1,10,100,1000,10000,100000,1000000],"tickSize":{"condition":{"test":"indexof([0.01,1,100,10000,1000000],datum.value)>=0","value":-5},"value":-2.5}}}}},
{"mark":{"type":"point","opacity":0,"clip":true},"encoding":{
"x":{"field":"v","type":"quantitative","axis":null},
"y":{"field":"n","type":"quantitative","axis":{"orient":"left","ticks":false,"domain":false,"title":null,"values":[0.01,1,100,10000,1000000],"labelExpr":"datum.value==0.01?'−2':datum.value==1?'0':datum.value==100?'2':datum.value==10000?'4':'6'","labelAlign":"left","labelPadding":5,"labelFontSize":4.5,"labelOffset":-2.5}}}}
],
"resolve":{"axis":{"x":"independent","y":"independent"}}}
],
"resolve":{"legend":{"color":"independent","strokeDash":"independent","opacity":"independent"}},
"config":{
"view":{"stroke":"black","strokeWidth":1},
"axis":{"grid":false,"domainColor":"black","domainWidth":0.8,"tickColor":"black","tickWidth":0.6,"labelColor":"black","labelFont":"DejaVu Sans","labelFontSize":6.5,"titleFont":"DejaVu Sans","titleFontSize":7,"titleFontWeight":"normal","titleColor":"black","labelOverlap":false,"labelFlush":false,"labelPadding":3},
"axisX":{"titlePadding":0},
"title":{"font":"Liberation Serif","fontSize":11.5,"fontWeight":"normal","anchor":"start","frame":"group","offset":0,"dx":6,"dy":22,"color":"black"},
"legend":{"labelColor":"black"}
}
}
